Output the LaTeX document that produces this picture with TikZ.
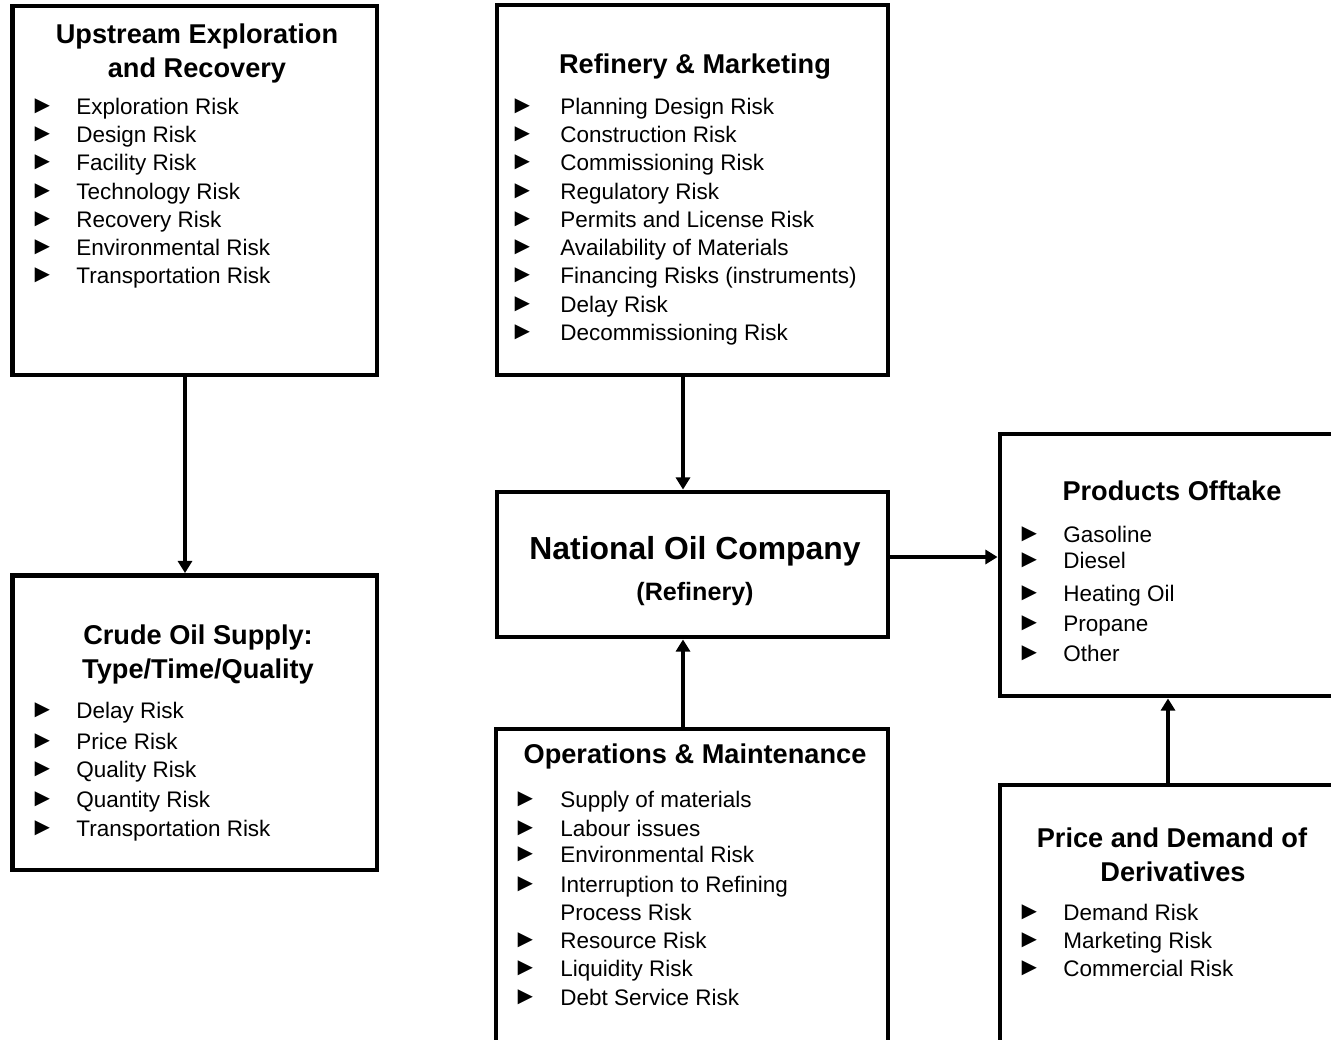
\documentclass[tikz,border=0pt]{standalone}
\usepackage{fontspec}
\setmainfont{Liberation Sans}
\usetikzlibrary{arrows.meta, positioning, calc}
\newdimen\pxu \pxu=0.01875cm
\tikzstyle{riskbox} = [rectangle, draw=black, line width=2.6pt, inner sep=0pt]
\tikzstyle{arrow} = [line width=2.2pt, -{Triangle[width=7.5pt,length=6.5pt]}]
\tikzstyle{head} = [inner sep=0pt, anchor=base, font=\fontsize{14.5}{17}\selectfont\bfseries]
\tikzstyle{item} = [inner sep=0pt, anchor=base west, font=\fontsize{12}{14}\selectfont]
\tikzstyle{bul} = [inner sep=0pt, anchor=center, font=\fontsize{13.5}{15}\selectfont]

\begin{document}
\begin{tikzpicture}[x=0.01875cm, y=-0.01875cm]
	\path[use as bounding box, clip] (0,0) rectangle (1331,1039);
	% boxes
	\node[riskbox, minimum width=364.5\pxu, minimum height=369\pxu] (b_up) at (194.75,190.5) {};
	\node[riskbox, minimum width=364.5\pxu, minimum height=294.5\pxu] (b_crude) at (194.75,722.75) {};
	\node[riskbox, minimum width=391\pxu, minimum height=370\pxu] (b_ref) at (692.5,190) {};
	\node[riskbox, minimum width=391\pxu, minimum height=145\pxu] (b_noc) at (692.5,564.5) {};
	\node[riskbox, minimum width=392\pxu, minimum height=331\pxu] (b_ops) at (692,894.5) {};
	\node[riskbox, minimum width=360\pxu, minimum height=262\pxu] (b_off) at (1180,565) {};
	\node[riskbox, minimum width=360\pxu, minimum height=295\pxu] (b_price) at (1180,932.5) {};

	% upstream
	\node[head] (up_h1) at (197,43) {Upstream Exploration};
	\node[head] (up_h2) at (197,77) {and Recovery};
	\foreach \y/\txt [count=\i] in {114/Exploration Risk, 142/Design Risk, 170/Facility Risk,
		199/Technology Risk, 227/Recovery Risk, 255/Environmental Risk, 283/Transportation Risk} {
		\node[bul] (up_b\i) at (42.5,\y-7.5) {►};
		\node[item] (up_\i) at (76,\y) {\txt};
	}

	% crude oil supply
	\node[head] (cr_h1) at (198,644) {Crude Oil Supply:};
	\node[head] (cr_h2) at (198,678) {Type/Time/Quality};
	\foreach \y/\txt [count=\i] in {718/Delay Risk, 749/Price Risk, 777/Quality Risk,
		807/Quantity Risk, 836/Transportation Risk} {
		\node[bul] (cr_b\i) at (42.5,\y-7.5) {►};
		\node[item] (cr_\i) at (76,\y) {\txt};
	}

	% refinery and marketing
	\node[head] (rf_h) at (695,73) {Refinery \& Marketing};
	\foreach \y/\txt [count=\i] in {114/Planning Design Risk, 142/Construction Risk, 170/Commissioning Risk,
		199/Regulatory Risk, 227/Permits and License Risk, 255/Availability of Materials,
		283/Financing Risks (instruments), 312/Delay Risk, 340/Decommissioning Risk} {
		\node[bul] (rf_b\i) at (522.5,\y-7.5) {►};
		\node[item] (rf_\i) at (560,\y) {\txt};
	}

	% national oil company
	\node[inner sep=0pt, anchor=base, font=\fontsize{17}{20}\selectfont\bfseries] (noc_h) at (695,559) {National Oil Company};
	\node[inner sep=0pt, anchor=base, font=\fontsize{13.4}{16}\selectfont\bfseries] (noc_s) at (695,600) {(Refinery)};

	% operations and maintenance
	\node[head] (om_h) at (695,763) {Operations \& Maintenance};
	\foreach \y/\txt [count=\i] in {807/Supply of materials, 836/Labour issues, 862/Environmental Risk,
		892/Interruption to Refining, 948/Resource Risk, 976/Liquidity Risk, 1005/Debt Service Risk} {
		\node[bul] (om_b\i) at (525.5,\y-7.5) {►};
		\node[item] (om_\i) at (560,\y) {\txt};
	}
	\node[item] (om_4b) at (560,920) {Process Risk};

	% products offtake
	\node[head] (po_h) at (1172,500) {Products Offtake};
	\foreach \y/\txt [count=\i] in {542/Gasoline, 568/Diesel, 601/Heating Oil, 631/Propane, 661/Other} {
		\node[bul] (po_b\i) at (1029.5,\y-7.5) {►};
		\node[item] (po_\i) at (1063,\y) {\txt};
	}

	% price and demand
	\node[head] (pd_h1) at (1172,847) {Price and Demand of};
	\node[head] (pd_h2) at (1173,881) {Derivatives};
	\foreach \y/\txt [count=\i] in {920/Demand Risk, 948/Marketing Risk, 976/Commercial Risk} {
		\node[bul] (pd_b\i) at (1029.5,\y-7.5) {►};
		\node[item] (pd_\i) at (1063,\y) {\txt};
	}

	\path[arrow]
	([xshift=-9.75\pxu]b_up.south) edge ([xshift=-9.75\pxu]b_up.south |- b_crude.north)
	([xshift=-9.5\pxu]b_ref.south) edge ([xshift=-9.5\pxu]b_ref.south |- b_noc.north)
	([xshift=-9\pxu]b_ops.north) edge ([xshift=-9\pxu]b_ops.north |- b_noc.south)
	([yshift=7.5\pxu]b_noc.east) edge ([yshift=7.5\pxu]b_noc.east -| b_off.west)
	([xshift=-12\pxu]b_price.north) edge ([xshift=-12\pxu]b_price.north |- b_off.south);
\end{tikzpicture}
\end{document}
